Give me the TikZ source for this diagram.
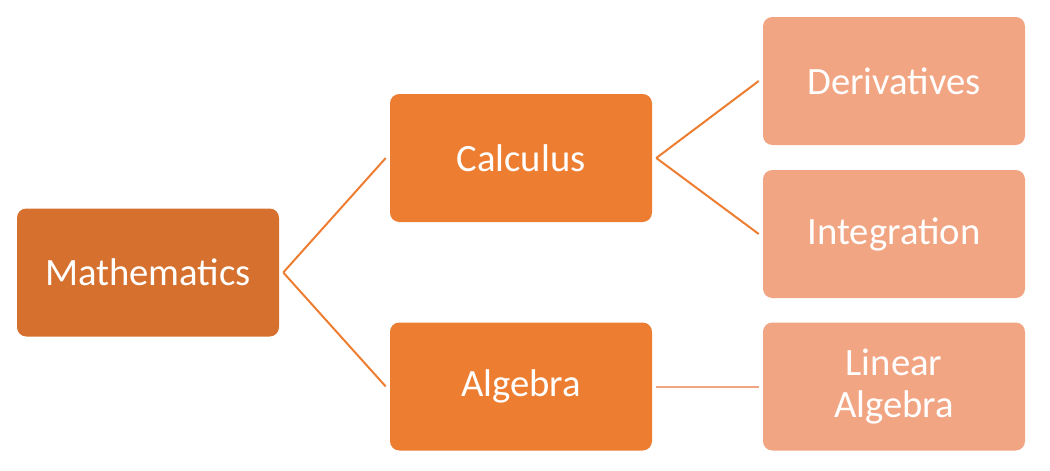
\documentclass[tikz,border=0pt]{standalone}
\usepackage{fontspec}
\setmainfont{Carlito}
\definecolor{dark}{HTML}{D6702E}
\definecolor{mid}{HTML}{ED7D31}
\definecolor{light}{HTML}{F2A582}
\begin{document}
\begin{tikzpicture}[x=0.75pt,y=-0.75pt,
  box/.style={rounded corners=7pt,minimum width=196.5pt,minimum height=96pt,text=white,font=\fontsize{29}{32}\selectfont,align=center,inner sep=0pt},
  con/.style={draw=mid,line width=1.5pt}]
\useasboundingbox (0,0) rectangle (1050,471);
\node[box,fill=dark] (m) at (148,272.5) {Mathematics};
\node[box,fill=mid] (c) at (521,158) {Calculus};
\node[box,fill=mid] (a) at (521,386.5) {Algebra};
\node[box,fill=light] (d) at (894,81) {Derivatives};
\node[box,fill=light] (i) at (894,234) {Integration};
\node[box,fill=light] (l) at (894,386.5) {Linear\\Algebra};
\coordinate (m1) at ([xshift=3pt]m.east);
\coordinate (c1) at ([xshift=3pt]c.east);
\draw[con] (m1) -- ([xshift=-3pt]c.west);
\draw[con] (m1) -- ([xshift=-3pt]a.west);
\draw[con] (c1) -- ([xshift=-3pt]d.west);
\draw[con] (c1) -- ([xshift=-3pt]i.west);
\draw[con,draw=light] ([xshift=3pt]a.east) -- ([xshift=-3pt]l.west);
\end{tikzpicture}
\end{document}
